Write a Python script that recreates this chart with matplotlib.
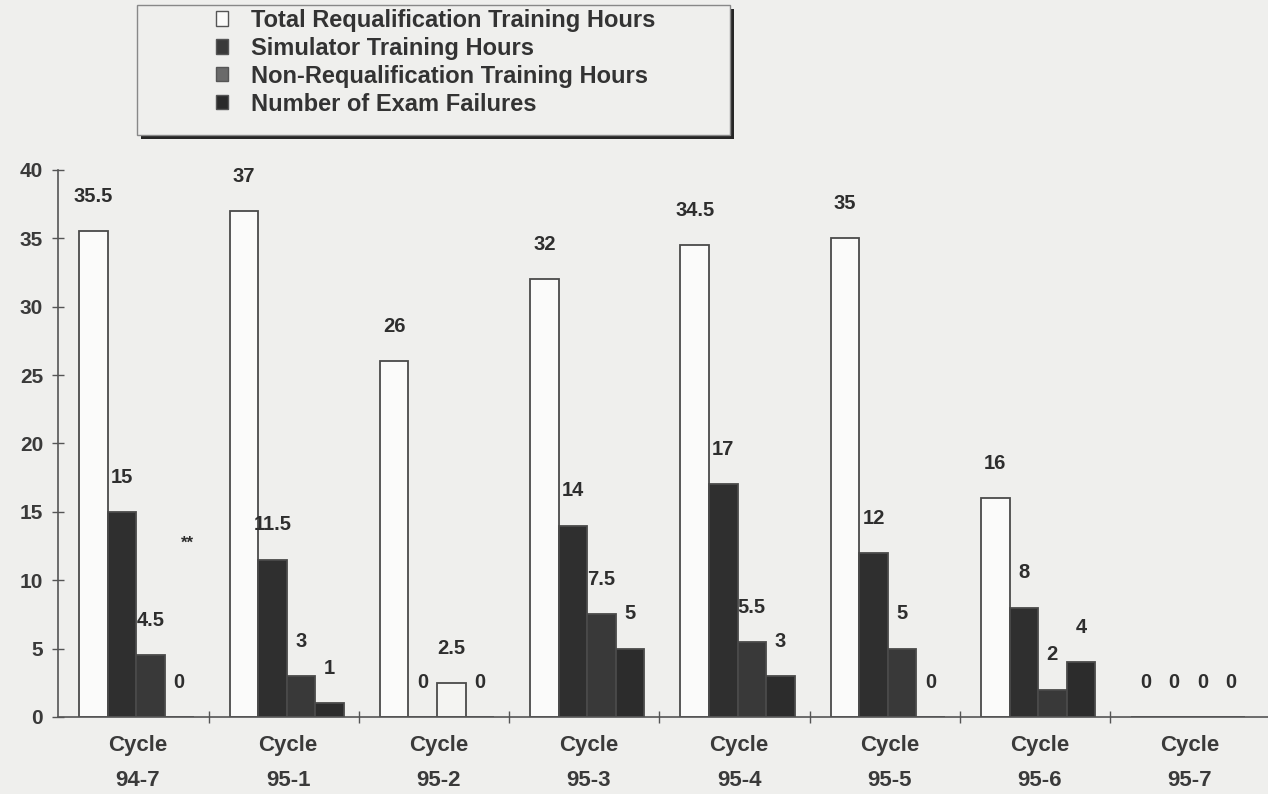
import matplotlib.pyplot as plt
import numpy as np
from matplotlib.patches import Patch, Rectangle

# data
cycles = ["Cycle\n94-7", "Cycle\n95-1", "Cycle\n95-2", "Cycle\n95-3",
          "Cycle\n95-4", "Cycle\n95-5", "Cycle\n95-6", "Cycle\n95-7"]
total_hours = [35.5, 37, 26, 32, 34.5, 35, 16, 0]
sim_hours = [15, 11.5, 0, 14, 17, 12, 8, 0]
nonreq_hours = [4.5, 3, 2.5, 7.5, 5.5, 5, 2, 0]
exam_failures = [0, 1, 0, 5, 3, 0, 4, 0]
series_names = ["Total Requalification Training Hours",
                "Simulator Training Hours",
                "Non-Requalification Training Hours",
                "Number of Exam Failures"]

plt.rcParams['font.family'] = ['Liberation Sans', 'DejaVu Sans']
bg = "#efefed"
ink = "#2e2e2e"

fig = plt.figure(figsize=(12.68, 7.94), dpi=100, facecolor=bg)
ax = fig.add_axes([0.046, 0.097, 0.954, 0.689])
ax.set_facecolor(bg)

x = np.arange(len(cycles))
w = 0.19
series = [total_hours, sim_hours, nonreq_hours, exam_failures]
fills = ["#fbfbfa", "#2f2f2f", "#393939", "#2c2c2c"]
# the 95-2 non-requal bar came out pale in the scan
nonreq_fill = [fills[2]] * len(cycles)
nonreq_fill[2] = "#f4f4f2"
fill_lists = [fills[0], fills[1], nonreq_fill, fills[3]]

for k, vals in enumerate(series):
    bars = ax.bar(x + (k - 1.5) * w + 0.02, vals, w, color=fill_lists[k],
                  edgecolor="#4a4a4a", linewidth=1.3, zorder=2)
    for b, v in zip(bars, vals):
        ax.annotate(f"{v:g}", (b.get_x() + b.get_width() / 2, v),
                    xytext=(0, 25), textcoords="offset points",
                    ha="center", va="center", fontsize=14.5,
                    fontweight="bold", color=ink)

# the "**" note beside cycle 94-7
ax.annotate("**", (x[0] + 1.5 * w, exam_failures[0]), xytext=(8, 125),
            textcoords="offset points", ha="center", va="center",
            fontsize=12, fontweight="bold", color=ink)

ax.set_ylim(0, 40)
ax.set_xlim(-0.5, 7.55)
ax.set_yticks(range(0, 41, 5))
ax.set_xticks(x + 0.03, cycles)
ax.set_xticks(np.arange(0.5, 7.5, 1), minor=True)
ax.tick_params(axis="y", direction="inout", length=8, width=1, color="#555",
               labelcolor="#3a3a3a", labelsize=15, pad=7)
ax.tick_params(axis="x", which="major", length=0, pad=13,
               labelcolor="#3a3a3a", labelsize=16)
ax.tick_params(axis="x", which="minor", direction="inout", length=8,
               width=1, color="#555")
for t in ax.get_yticklabels():
    t.set_fontweight("bold")
for t in ax.get_xticklabels():
    t.set_linespacing(1.9)
    t.set_fontweight("bold")

for s in ["top", "right"]:
    ax.spines[s].set_visible(False)
for s in ["left", "bottom"]:
    ax.spines[s].set_color("#555")
    ax.spines[s].set_linewidth(1.2)

# legend box with the heavy drop shadow
W, H = 1268, 794
fig.add_artist(Rectangle((141 / W, 1 - 139 / H), 593 / W, 130 / H,
                         transform=fig.transFigure, facecolor="#262626",
                         edgecolor="none", zorder=1))
fig.add_artist(Rectangle((137 / W, 1 - 135 / H), 593 / W, 130 / H,
                         transform=fig.transFigure, facecolor=bg,
                         edgecolor="#888", linewidth=1, zorder=2))

handles = [Patch(facecolor=c, edgecolor="#555", linewidth=1)
           for c in ["#fbfbfa", "#3a3a3a", "#6a6a6a", "#2a2a2a"]]
leg = fig.legend(handles, series_names, loc="upper left",
                 bbox_to_anchor=(204 / W, 1 + 3 / H), frameon=False,
                 prop={"size": 17, "weight": "bold"},
                 handlelength=0.5, handleheight=0.55,
                 handletextpad=1.0, labelspacing=0.21, borderpad=0)
leg.set_zorder(3)
for t in leg.get_texts():
    t.set_color("#333")

fig.savefig("out.png", dpi=100, facecolor=bg)
